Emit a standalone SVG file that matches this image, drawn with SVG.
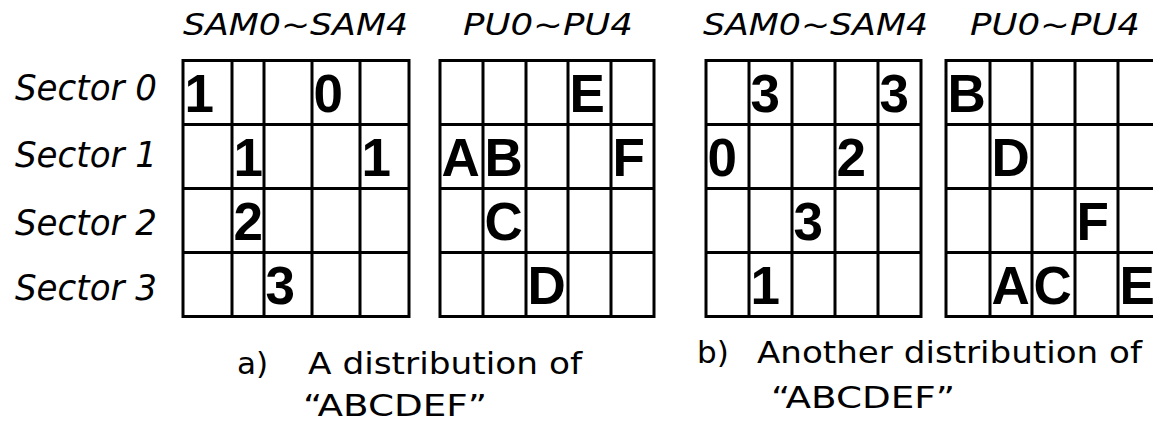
<svg xmlns="http://www.w3.org/2000/svg" width="1153" height="421" viewBox="0 0 1153 421">
<style>
.grid{fill:none;stroke:#000;stroke-width:3;stroke-linecap:square}
.cell{font-family:"Liberation Sans",Arial,sans-serif;font-weight:bold;font-size:53px;fill:#000}
.hdr{font-family:"DejaVu Sans","Liberation Sans",sans-serif;font-style:italic;font-size:31px;fill:#000}
.row{font-family:"DejaVu Sans","Liberation Sans",sans-serif;font-style:italic;font-size:35px;fill:#000}
.cap{font-family:"DejaVu Sans","Liberation Sans",sans-serif;font-size:31px;fill:#000}
</style>
<rect width="1153" height="421" fill="#fff"/>

<g id="row-labels">
<text class="row" x="15" y="100" textLength="142" lengthAdjust="spacingAndGlyphs">Sector 0</text>
<text class="row" x="15" y="167" textLength="142" lengthAdjust="spacingAndGlyphs">Sector 1</text>
<text class="row" x="15" y="235" textLength="142" lengthAdjust="spacingAndGlyphs">Sector 2</text>
<text class="row" x="15" y="300" textLength="142" lengthAdjust="spacingAndGlyphs">Sector 3</text>
</g>

<g id="headers">
<text class="hdr" x="183" y="35" textLength="225" lengthAdjust="spacingAndGlyphs">SAM0~SAM4</text>
<text class="hdr" x="463" y="35" textLength="170" lengthAdjust="spacingAndGlyphs">PU0~PU4</text>
<text class="hdr" x="703" y="35" textLength="225" lengthAdjust="spacingAndGlyphs">SAM0~SAM4</text>
<text class="hdr" x="970" y="35" textLength="170" lengthAdjust="spacingAndGlyphs">PU0~PU4</text>
</g>

<g id="grid-a-sam">
<path class="grid" d="M183 60.5H409V316.5H183Z M232 60.5V316.5 M264 60.5V316.5 M312 60.5V316.5 M360 60.5V316.5 M183 124.5H409 M183 188.5H409 M183 252.5H409"/>
<text class="cell" x="184.5" y="112">1</text>
<text class="cell" x="313.5" y="112">0</text>
<text class="cell" x="233.5" y="176">1</text>
<text class="cell" x="361.5" y="176">1</text>
<text class="cell" x="233.5" y="240">2</text>
<text class="cell" x="265.5" y="304">3</text>
</g>

<g id="grid-a-pu">
<path class="grid" d="M440 60.5H654V316.5H440Z M483 60.5V316.5 M526 60.5V316.5 M568 60.5V316.5 M611 60.5V316.5 M440 124.5H654 M440 188.5H654 M440 252.5H654"/>
<text class="cell" x="569.5" y="112">E</text>
<text class="cell" x="441.5" y="176">A</text>
<text class="cell" x="484.5" y="176">B</text>
<text class="cell" x="612.5" y="176">F</text>
<text class="cell" x="484.5" y="240">C</text>
<text class="cell" x="527.5" y="304">D</text>
</g>

<g id="grid-b-sam">
<path class="grid" d="M706 60.5H921V316.5H706Z M749 60.5V316.5 M792 60.5V316.5 M835 60.5V316.5 M878 60.5V316.5 M706 124.5H921 M706 188.5H921 M706 252.5H921"/>
<text class="cell" x="750.5" y="112">3</text>
<text class="cell" x="879.5" y="112">3</text>
<text class="cell" x="707.5" y="176">0</text>
<text class="cell" x="836.5" y="176">2</text>
<text class="cell" x="793.5" y="240">3</text>
<text class="cell" x="750.5" y="304">1</text>
</g>

<g id="grid-b-pu">
<path class="grid" d="M1161 60.5H946V316.5H1161 M990 60.5V316.5 M1032 60.5V316.5 M1075 60.5V316.5 M1118 60.5V316.5 M946 124.5H1161 M946 188.5H1161 M946 252.5H1161"/>
<text class="cell" x="947.5" y="112">B</text>
<text class="cell" x="991.5" y="176">D</text>
<text class="cell" x="1076.5" y="240">F</text>
<text class="cell" x="991.5" y="304">A</text>
<text class="cell" x="1033.5" y="304">C</text>
<text class="cell" x="1119.5" y="304">E</text>
</g>

<g id="caption-a">
<text class="cap" x="237" y="374">a)</text>
<text class="cap" x="308" y="374" textLength="274" lengthAdjust="spacingAndGlyphs">A distribution of</text>
<text class="cap" x="303" y="416" textLength="184" lengthAdjust="spacingAndGlyphs">“ABCDEF”</text>
</g>

<g id="caption-b">
<text class="cap" x="697" y="363">b)</text>
<text class="cap" x="757" y="363" textLength="385" lengthAdjust="spacingAndGlyphs">Another distribution of</text>
<text class="cap" x="771" y="408" textLength="184" lengthAdjust="spacingAndGlyphs">“ABCDEF”</text>
</g>

<g id="connectors"/>
</svg>
